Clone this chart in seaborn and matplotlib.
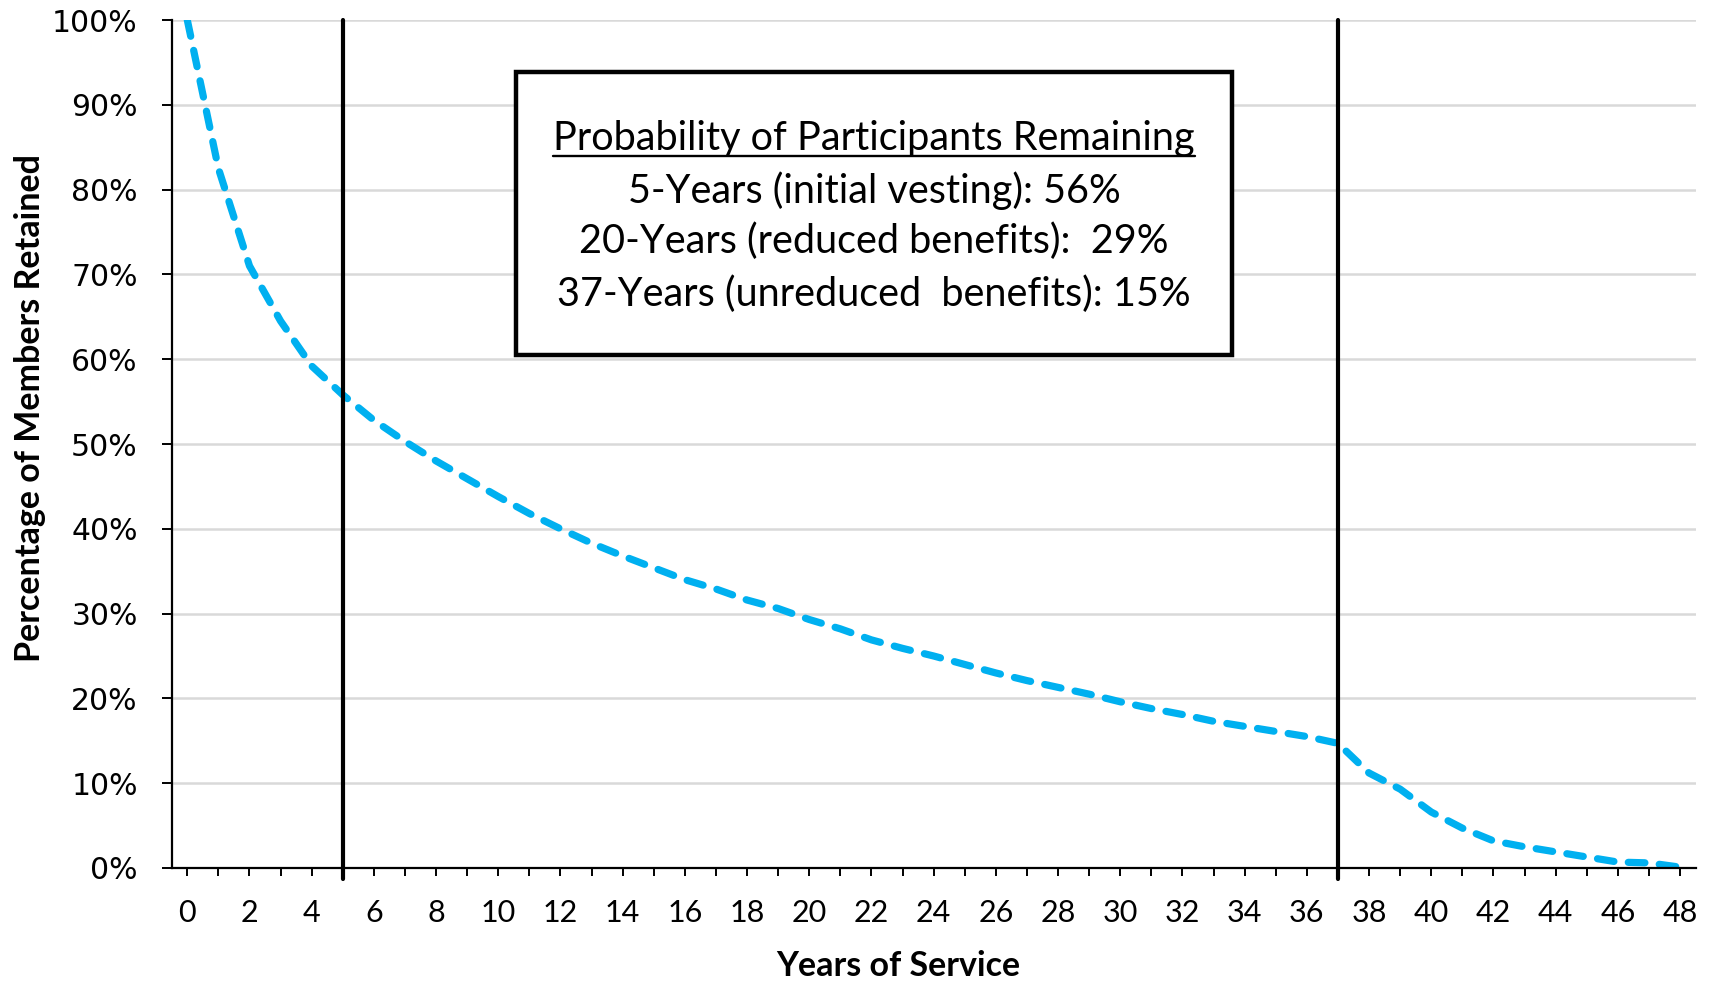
import matplotlib
matplotlib.use("Agg")
import matplotlib.pyplot as plt
import matplotlib.ticker as mticker
from matplotlib.patches import Rectangle
from matplotlib.lines import Line2D
import seaborn as sns
import pandas as pd

# Share of members still in service after each completed year
years = list(range(0, 49))
retained = [
    100.0, 82.5, 71.0, 64.5, 59.2, 55.8, 52.8, 50.3, 48.0, 45.9,
    43.8, 41.8, 40.0, 38.3, 36.8, 35.4, 34.0, 32.9, 31.6, 30.6,
    29.3, 28.2, 26.9, 25.9, 25.0, 24.0, 23.0, 22.1, 21.3, 20.5,
    19.6, 18.8, 18.1, 17.3, 16.7, 16.1, 15.5, 14.7, 11.2, 9.3,
    6.6, 4.7, 3.2, 2.5, 1.9, 1.3, 0.7, 0.6, 0.1,
]

# Service milestones marked on the chart
milestone_years = [5, 20, 37]
milestone_names = ["initial vesting", "reduced benefits", "unreduced  benefits"]
marker_years = [5, 37]

x_tick_values = list(range(0, 49, 2))
y_tick_values = list(range(0, 101, 10))

title_text = "Probability of Participants Remaining"
x_label = "Years of Service"
y_label = "Percentage of Members Retained"

sns.set_theme(style="white")
plt.rcParams["font.family"] = ["Lato", "DejaVu Sans"]

df = pd.DataFrame({"year": years, "retained": retained})

fig = plt.figure(figsize=(17.13, 9.81), dpi=100)
ax = fig.add_axes([0.10026, 0.11519, 0.88958, 0.86442])

LINE_BLUE = "#00B0F0"

sns.lineplot(data=df, x="year", y="retained", ax=ax, color=LINE_BLUE,
             linewidth=5.2, zorder=4)
curve = ax.lines[-1]
curve.set_dashes((2.3, 2.0))
curve.set_dash_capstyle("round")
curve.set_solid_capstyle("round")

ax.set_xlim(-0.5, 48.5)
ax.set_ylim(0, 100)

# milestone markers reaching slightly below the axis line
for yr in marker_years:
    ax.axvline(yr, ymin=-0.013, ymax=1.0, color="black", linewidth=3.0,
               clip_on=False, zorder=5)

# horizontal grid
ax.yaxis.set_major_locator(mticker.FixedLocator(y_tick_values))
ax.yaxis.set_major_formatter(mticker.FuncFormatter(lambda v, p: f"{v:.0f}%"))
ax.grid(axis="y", color="#d9d9d9", linewidth=1.8, zorder=0)
ax.grid(axis="x", visible=False)
ax.set_axisbelow(True)

ax.xaxis.set_major_locator(mticker.FixedLocator(x_tick_values))
ax.xaxis.set_minor_locator(mticker.FixedLocator(years))
ax.xaxis.set_major_formatter(mticker.FuncFormatter(lambda v, p: f"{v:.0f}"))

for side in ["top", "right"]:
    ax.spines[side].set_visible(False)
for side in ["left", "bottom"]:
    ax.spines[side].set_color("black")
    ax.spines[side].set_linewidth(1.6)
    ax.spines[side].set_zorder(6)

ax.tick_params(axis="x", which="both", direction="out", length=5.5,
               width=1.4, color="black", bottom=True)
ax.tick_params(axis="x", which="major", labelsize=22, pad=17,
               labelcolor="black")
ax.tick_params(axis="y", which="major", direction="out", length=7.5,
               width=1.4, color="black", left=True, pad=17,
               labelcolor="black")
for lbl in ax.get_yticklabels():
    lbl.set_fontfamily(["DejaVu Sans"])
    lbl.set_fontsize(21.5)

ax.set_xlabel(x_label, fontsize=24.5, fontweight="bold", color="black")
ax.set_ylabel(y_label, fontsize=24.5, fontweight="bold", color="black")
ax.xaxis.set_label_coords(0.477, -0.116)
ax.xaxis.label.set_va("center")
ax.yaxis.set_label_coords(-0.093, 0.543)
ax.yaxis.label.set_va("center")

# summary box
box = Rectangle((0.3012, 0.6381), 0.4180, 0.2885, transform=fig.transFigure,
                facecolor="white", edgecolor="black", linewidth=3.2,
                zorder=10)
fig.patches.append(box)

cx = 0.5102
title = fig.text(cx, 1 - 150 / 981, title_text, ha="center", va="baseline",
                 fontsize=28.5, color="black", zorder=11)
line_y = [203, 253.5, 306]
for yr, name, py in zip(milestone_years, milestone_names, line_y):
    val = retained[years.index(yr)]
    sep = "  " if yr == 20 else " "
    fig.text(cx, 1 - py / 981, f"{yr}-Years ({name}):{sep}{val:.0f}%",
             ha="center", va="baseline", fontsize=28.5, color="black",
             zorder=11)

# underline the box heading
renderer = fig.canvas.get_renderer()
bb = title.get_window_extent(renderer=renderer)
W, H = fig.bbox.width, fig.bbox.height
uy = 1 - 156 / 981
fig.lines.append(Line2D([bb.x0 / W, bb.x1 / W], [uy, uy],
                        transform=fig.transFigure, color="black",
                        linewidth=1.7, zorder=11))

fig.savefig("out.png", dpi=100, facecolor="white")
